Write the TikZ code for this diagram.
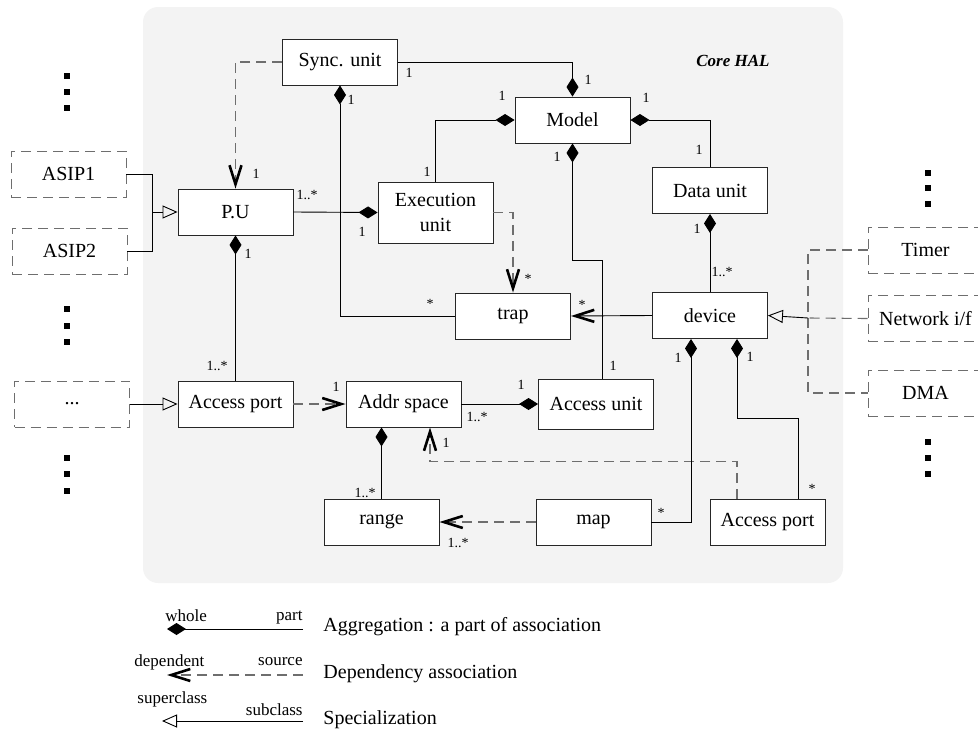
\documentclass[tikz,border=0pt]{standalone}
\usepackage{fontspec}
\setmainfont{Liberation Serif}
\usetikzlibrary{arrows.meta}
\definecolor{halgray}{HTML}{F3F3F3}
\definecolor{dashgray}{HTML}{6E6E6E}

\begin{document}
\begin{tikzpicture}[x=1pt, y=-1pt, line width=0.9pt,
    cls/.style={draw=black!85, fill=white, minimum width=115pt, minimum height=46pt,
        inner sep=2pt, font=\fontsize{20}{25}\selectfont},
    ext/.style={cls, draw=dashgray, fill=none, dash pattern=on 10pt off 6pt},
    grayline/.style={draw=dashgray, line width=1.1pt, dash pattern=on 10pt off 6pt},
    agg/.style={-{Diamond[length=19pt,width=12pt]}},
    dep/.style={grayline, -{Straight Barb[length=19pt,width=12pt,line width=2.6pt,color=black]}},
    spec/.style={-{Triangle[open,length=15pt,width=13pt]}},
    mult/.style={font=\fontsize{14}{16}\selectfont, inner sep=0pt},
    legtag/.style={font=\fontsize{17}{19}\selectfont, inner sep=0pt},
    legtxt/.style={font=\fontsize{20}{24}\selectfont, inner sep=0pt, anchor=west}]

    \useasboundingbox (0,0) rectangle (978,731);

    % Core HAL background
    \fill[halgray, rounded corners=15pt] (143,7) rectangle (843,583);
    \node[font=\fontsize{17}{20}\selectfont\bfseries\itshape] (corehal) at (733,61) {Core HAL};

    % Core classes
    \node[cls] (sync) at (340,62) {Sync. unit};
    \node[cls] (pu) at (235.5,212) {P.U};
    \node[cls] (model) at (572.5,120) {Model};
    \node[cls, minimum height=61pt, align=center] (exec) at (435.5,212.5) {Execution\\unit};
    \node[cls] (data) at (710,190.5) {Data unit};
    \node[cls] (trap) at (513,316) {trap};
    \node[cls] (device) at (710,315.5) {device};
    \node[cls] (accl) at (235.5,404) {Access port};
    \node[cls] (addr) at (403.5,404) {Addr space};
    \node[cls, minimum height=50pt] (accu) at (596,404) {Access unit};
    \node[cls] (range) at (381.5,522) {range};
    \node[cls] (map) at (593.5,522) {map};
    \node[cls] (accr) at (767.5,522) {Access port};

    % Outside classes (dashed)
    \node[ext] (asip1) at (68.5,174) {ASIP1};
    \node[ext] (asip2) at (69.5,251) {ASIP2};
    \node[ext] (etc) at (72,404) {...};
    \node[ext] (timer) at (925.5,250) {Timer};
    \node[ext] (netif) at (925.5,318.5) {Network i/f};
    \node[ext] (dma) at (925.5,393) {DMA};

    % dots
    \foreach \x/\y in {67/76, 67/92, 67/108, 67/309, 67/326, 67/342, 67/458, 67/474, 67/491,
        928/173, 928/188, 928/204, 928/442, 928/458, 928/474}
        \fill (\x-3,\y-3) rectangle (\x+3,\y+3);

    % ========================================================
    % Connectors
    % ========================================================

    % Sync. unit - - > P.U
    \draw[dep] (sync.west) -| (pu.north);
    \node[mult] (m1) at (256,174) {1};

    % ASIP1, ASIP2 -> P.U
    \coordinate (asipjoin) at (152,212);
    \draw[spec] (asip1.east) -| (asipjoin) -- (pu.west);
    \draw (asip2.east) -| (asipjoin);

    % P.U -> Execution unit
    \draw[agg] (pu.east) -- (exec.west);
    \node[mult] (m2) at (307,195) {1..*};
    \node[mult] (m3) at (362,232) {1};

    % Sync. unit -> Model
    \draw[agg] (sync.east) -| (model.north);
    \node[mult] (m4) at (409,73) {1};
    \node[mult] (m5) at (588,80) {1};

    % trap -> Sync. unit
    \draw[agg] (trap.west) -| (sync.south);
    \node[mult] (m6) at (351,100) {1};
    \node[mult] (m7) at (430,304) {*};

    % Execution unit -> Model
    \draw[agg] (exec.north) |- (model.west);
    \node[mult] (m8) at (427,172) {1};
    \node[mult] (m9) at (502,96) {1};

    % Execution unit - - > trap
    \draw[dep] (exec.east) -| (trap.north);
    \node[mult] (m10) at (528,279) {*};

    % Data unit -> Model
    \draw[agg] (data.north) |- (model.east);
    \node[mult] (m11) at (646,98) {1};
    \node[mult] (m12) at (699,150) {1};

    % Access unit -> Model
    \draw[agg] ([xshift=6pt]accu.north) -- ++(0,-118) -| (model.south);
    \node[mult] (m13) at (557,157) {1};
    \node[mult] (m14) at (613,366) {1};

    % device -> trap
    \draw[dep, solid, draw=black, line width=0.9pt] (device.west) -- (trap.east);
    \node[mult] (m15) at (582,305) {*};

    % device -> Data unit
    \draw[agg] (device.north) -- (data.south);
    \node[mult] (m16) at (697,229) {1};
    \node[mult] (m17) at (722,272) {1..*};

    % Timer, Network i/f, DMA -> device
    \coordinate (devjoin) at (808,318);
    \draw[grayline] (timer.west) -| (devjoin) |- (dma.west);
    \draw[grayline] (netif.west) -- (devjoin);
    \draw[spec] (devjoin) -- (device.east);

    % ... -> Access port
    \draw[spec] (etc.east) -- (accl.west);

    % Access port -> P.U
    \draw[agg] (accl.north) -- (pu.south);
    \node[mult] (m18) at (248,254) {1};
    \node[mult] (m19) at (217,366) {1..*};

    % Access port - - > Addr space
    \draw[dep] (accl.east) -- (addr.west);
    \node[mult] (m20) at (336,387) {1};

    % Addr space -> Access unit
    \draw[agg] (addr.east) -- (accu.west);
    \node[mult] (m21) at (477,417) {1..*};
    \node[mult] (m22) at (521,385) {1};

    % range -> Addr space
    \draw[agg] (range.north) -- (range.north |- addr.south);
    \node[mult] (m23) at (365,493) {1..*};

    % Access port (device) - - > Addr space
    \draw[dep] ([xshift=-30.5pt]accr.north) -- ++(0,-37) -| ([xshift=26.5pt]addr.south);
    \node[mult] (m24) at (446,443) {1};

    % map - - > range
    \draw[dep] (map.west) -- (range.east);
    \node[mult] (m25) at (458,543) {1..*};

    % map -> device
    \draw[agg] (map.east) -| ([xshift=-19pt]device.south);
    \node[mult] (m26) at (678,358) {1};
    \node[mult] (m27) at (661,513) {*};

    % Access port -> device
    \draw[agg] ([xshift=30.5pt]accr.north) -- ++(0,-80) -| ([xshift=27pt]device.south);
    \node[mult] (m28) at (750,357) {1};
    \node[mult] (m29) at (812,489) {*};

    % ========================================================
    % Legend
    % ========================================================
    \coordinate (aggR) at (303,629);
    \coordinate (aggL) at (167,629);
    \draw[agg] (aggR) -- (aggL);
    \node[legtag, anchor=west] (whole) at (165,616) {whole};
    \node[legtag, anchor=east] (part) at (303,618) {part};
    \node[legtxt] (aggtxt) at (323,627) {Aggregation : a part of association};

    \coordinate (depR) at (303,675);
    \coordinate (depL) at (167,675);
    \draw[dep] (depR) -- (depL);
    \node[legtag, anchor=west] (dependent) at (134,662) {dependent};
    \node[legtag, anchor=east] (source) at (303,662) {source};
    \node[legtxt] (deptxt) at (323,674) {Dependency association};

    \coordinate (specR) at (303,721);
    \coordinate (specL) at (162,721);
    \draw[spec] (specR) -- (specL);
    \node[legtag, anchor=west] (superclass) at (137,699) {superclass};
    \node[legtag, anchor=east] (subclass) at (303,710) {subclass};
    \node[legtxt] (spectxt) at (323,720) {Specialization};

\end{tikzpicture}
\end{document}
